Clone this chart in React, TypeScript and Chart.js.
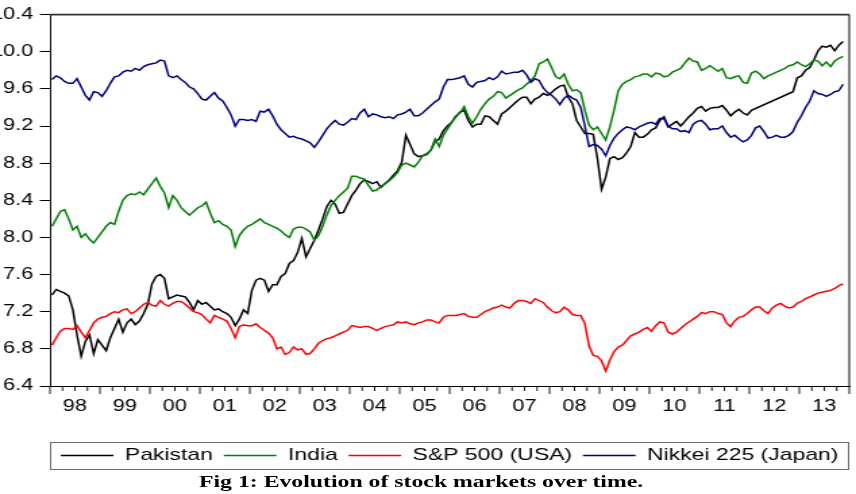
import React, { useEffect, useRef } from 'react';
import { Chart, registerables } from 'chart.js';

Chart.register(...registerables);

// ---- data (monthly, Jan 1998 .. Nov 2013), log index levels ----
const START_YEAR = 1998;
const END_YEAR = 2014;

const seriesNames = ['Pakistan', 'India', 'S&P 500 (USA)', 'Nikkei 225 (Japan)'];
const seriesColors = ['#000000', '#008000', '#ff0000', '#000080'];

const pakistan: (number | null)[] = [
  7.38, 7.44, 7.42, 7.40, 7.37, 7.22, 6.95, 6.72, 6.88, 6.95, 6.75, 6.90,
  6.84, 6.78, 6.92, 7.02, 7.12, 6.98, 7.08, 7.12, 7.06, 7.10, 7.18, 7.28,
  7.50, 7.58, 7.60, 7.56, 7.34, 7.36, 7.38, 7.37, 7.36, 7.30, 7.22, 7.32,
  7.28, 7.30, 7.26, 7.22, 7.23, 7.20, 7.18, 7.14, 7.05, 7.12, 7.22, 7.18,
  7.43, 7.54, 7.56, 7.54, 7.42, 7.49, 7.49, 7.58, 7.61, 7.72, 7.75, 7.84,
  7.99, 7.79, 7.88, 7.97, 8.08, 8.20, 8.33, 8.40, 8.36, 8.26, 8.27, 8.36,
  8.45, 8.51, 8.58, 8.62, 8.60, 8.58, 8.60, 8.54, 8.58, 8.62, 8.67, 8.72,
  8.81, 9.10, 9.00, 8.90, 8.87, 8.88, 8.90, 8.94, 9.03, 9.06, 9.15, 9.20,
  9.24, 9.30, 9.35, 9.37, 9.26, 9.19, 9.22, 9.22, 9.31, 9.30, 9.26, 9.22,
  9.33, 9.36, 9.40, 9.44, 9.48, 9.51, 9.51, 9.44, 9.49, 9.51, 9.55, 9.53,
  9.56, 9.60, 9.63, 9.64, 9.51, 9.44, 9.26, 9.19, 9.12, 9.12, 9.11, 8.85,
  8.52, 8.65, 8.85, 8.87, 8.84, 8.86, 8.91, 8.98, 9.13, 9.08, 9.08, 9.11,
  9.16, 9.18, 9.26, 9.30, 9.19, 9.22, 9.25, 9.20, 9.25, 9.30, 9.34, 9.39,
  9.41, 9.36, 9.39, 9.40, 9.40, 9.42, 9.37, 9.31, 9.35, 9.38, 9.34, 9.32,
  9.37, null, null, null, null, null, null, null, null, null, 9.57, 9.72,
  9.74, 9.80, 9.83, 9.91, 10.01, 10.06, 10.05, 10.07, 10.01, 10.07, 10.11,
];

const india: number[] = [
  8.12, 8.20, 8.28, 8.30, 8.20, 8.08, 8.12, 8.00, 8.04, 7.98, 7.94, 8.00,
  8.06, 8.12, 8.16, 8.14, 8.28, 8.40, 8.45, 8.47, 8.46, 8.49, 8.46, 8.52,
  8.58, 8.64, 8.55, 8.48, 8.32, 8.45, 8.40, 8.32, 8.28, 8.24, 8.28, 8.32,
  8.34, 8.38, 8.26, 8.16, 8.18, 8.14, 8.12, 8.08, 7.90, 8.02, 8.08, 8.12,
  8.14, 8.17, 8.20, 8.16, 8.14, 8.12, 8.10, 8.07, 8.03, 8.00, 8.09, 8.11,
  8.11, 8.09, 8.06, 7.97, 8.02, 8.12, 8.24, 8.34, 8.40, 8.45, 8.49, 8.53,
  8.66, 8.66, 8.64, 8.63, 8.56, 8.50, 8.51, 8.55, 8.58, 8.61, 8.65, 8.70,
  8.78, 8.80, 8.78, 8.76, 8.81, 8.88, 8.89, 8.94, 9.06, 8.98, 9.10, 9.17,
  9.24, 9.31, 9.34, 9.41, 9.30, 9.23, 9.30, 9.38, 9.44, 9.49, 9.52, 9.57,
  9.56, 9.50, 9.53, 9.56, 9.59, 9.61, 9.65, 9.69, 9.74, 9.87, 9.89, 9.92,
  9.83, 9.73, 9.71, 9.76, 9.65, 9.58, 9.59, 9.56, 9.37, 9.21, 9.16, 9.19,
  9.12, 9.05, 9.19, 9.37, 9.58, 9.65, 9.68, 9.70, 9.73, 9.74, 9.76, 9.76,
  9.73, 9.77, 9.76, 9.73, 9.74, 9.78, 9.80, 9.82, 9.88, 9.93, 9.90, 9.89,
  9.80, 9.82, 9.85, 9.82, 9.79, 9.82, 9.72, 9.71, 9.73, 9.74, 9.67, 9.66,
  9.77, 9.79, 9.76, 9.71, 9.74, 9.76, 9.78, 9.80, 9.82, 9.85, 9.86, 9.89,
  9.86, 9.84, 9.87, 9.91, 9.90, 9.85, 9.89, 9.84, 9.90, 9.93, 9.95,
];

const sp500: number[] = [
  6.84, 6.92, 6.99, 7.02, 7.02, 7.01, 7.05, 6.98, 6.92, 7.00, 7.08, 7.12,
  7.14, 7.15, 7.18, 7.20, 7.19, 7.22, 7.23, 7.18, 7.20, 7.24, 7.28, 7.30,
  7.27, 7.26, 7.32, 7.28, 7.26, 7.29, 7.31, 7.31, 7.28, 7.24, 7.20, 7.19,
  7.17, 7.12, 7.08, 7.16, 7.14, 7.12, 7.10, 7.02, 6.92, 7.04, 7.06, 7.05,
  7.05, 7.07, 7.03, 7.00, 6.97, 6.92, 6.80, 6.82, 6.74, 6.76, 6.82, 6.79,
  6.80, 6.74, 6.75, 6.80, 6.86, 6.89, 6.91, 6.92, 6.94, 6.96, 6.98, 7.00,
  7.05, 7.04, 7.03, 7.04, 7.04, 7.02, 7.00, 7.02, 7.04, 7.05, 7.06, 7.09,
  7.08, 7.09, 7.07, 7.06, 7.08, 7.09, 7.11, 7.11, 7.09, 7.08, 7.14, 7.16,
  7.16, 7.16, 7.17, 7.18, 7.15, 7.14, 7.14, 7.17, 7.20, 7.22, 7.24, 7.25,
  7.27, 7.25, 7.24, 7.29, 7.32, 7.32, 7.31, 7.29, 7.34, 7.32, 7.30, 7.25,
  7.21, 7.19, 7.20, 7.25, 7.22, 7.17, 7.16, 7.16, 7.07, 6.83, 6.73, 6.72,
  6.67, 6.56, 6.68, 6.77, 6.82, 6.84, 6.89, 6.94, 6.96, 6.98, 7.01, 7.03,
  6.99, 7.05, 7.09, 7.08, 6.98, 6.96, 6.98, 7.02, 7.06, 7.09, 7.12, 7.15,
  7.19, 7.18, 7.20, 7.20, 7.18, 7.17, 7.08, 7.04, 7.10, 7.14, 7.15, 7.18,
  7.22, 7.25, 7.25, 7.21, 7.18, 7.24, 7.27, 7.29, 7.26, 7.24, 7.25, 7.29,
  7.31, 7.34, 7.36, 7.38, 7.40, 7.41, 7.42, 7.43, 7.45, 7.48, 7.50,
];

const nikkei: number[] = [
  9.70, 9.74, 9.72, 9.68, 9.66, 9.66, 9.71, 9.62, 9.53, 9.48, 9.57, 9.56,
  9.52, 9.58, 9.66, 9.73, 9.74, 9.78, 9.80, 9.79, 9.82, 9.80, 9.84, 9.86,
  9.87, 9.88, 9.91, 9.90, 9.74, 9.72, 9.74, 9.70, 9.67, 9.62, 9.60, 9.55,
  9.49, 9.48, 9.52, 9.56, 9.50, 9.47, 9.40, 9.32, 9.20, 9.27, 9.27, 9.26,
  9.27, 9.25, 9.36, 9.35, 9.38, 9.31, 9.22, 9.16, 9.12, 9.08, 9.09, 9.07,
  9.06, 9.04, 9.02, 8.97, 9.03, 9.10, 9.17, 9.22, 9.26, 9.22, 9.21, 9.24,
  9.28, 9.27, 9.34, 9.38, 9.30, 9.33, 9.32, 9.30, 9.29, 9.30, 9.28, 9.32,
  9.33, 9.35, 9.38, 9.31, 9.31, 9.34, 9.38, 9.42, 9.46, 9.49, 9.62, 9.70,
  9.70, 9.71, 9.72, 9.74, 9.65, 9.62, 9.67, 9.68, 9.69, 9.72, 9.70, 9.73,
  9.79, 9.76, 9.77, 9.78, 9.78, 9.80, 9.75, 9.67, 9.71, 9.69, 9.61, 9.56,
  9.53, 9.49, 9.43, 9.50, 9.53, 9.50, 9.48, 9.40, 9.20, 8.98, 9.00, 8.99,
  8.95, 8.88, 8.99, 9.07, 9.12, 9.16, 9.19, 9.18, 9.16, 9.19, 9.21, 9.23,
  9.24, 9.22, 9.28, 9.28, 9.20, 9.17, 9.17, 9.14, 9.15, 9.13, 9.22, 9.25,
  9.26, 9.22, 9.16, 9.17, 9.17, 9.20, 9.13, 9.08, 9.10, 9.06, 9.03, 9.05,
  9.10, 9.18, 9.20, 9.14, 9.07, 9.08, 9.10, 9.08, 9.08, 9.10, 9.14, 9.24,
  9.31, 9.40, 9.47, 9.58, 9.55, 9.54, 9.52, 9.54, 9.57, 9.58, 9.65,
];

const seriesValues = [pakistan, india, sp500, nikkei];

const yTickValues = [6.4, 6.8, 7.2, 7.6, 8.0, 8.4, 8.8, 9.2, 9.6, 10.0, 10.4];
const yearLabels = ['98', '99', '00', '01', '02', '03', '04', '05', '06', '07', '08', '09', '10', '11', '12', '13'];
const captionText = 'Fig 1: Evolution of stock markets over time.';

// ---- layout ----
const SCREEN_W = 856;
const CW = 634; // canvas width before horizontal stretch
const CH = 476;
const STRETCH = SCREEN_W / CW;
const FONT = '"Liberation Sans", Arial, Helvetica, sans-serif';

const monthX = (i: number) => START_YEAR + (i + 0.5) / 12;

const quarterTicks: number[] = [];
for (let q = START_YEAR * 4; q <= END_YEAR * 4; q++) quarterTicks.push(q / 4);

const framePlugin = {
  id: 'framePlugin',
  afterDraw(chart: any) {
    const { ctx, chartArea, scales } = chart;
    const { left, right, top, bottom } = chartArea;
    ctx.save();
    // top and right frame
    ctx.strokeStyle = '#333333';
    ctx.lineWidth = 1.6;
    ctx.beginPath();
    ctx.moveTo(left, top);
    ctx.lineTo(right, top);
    ctx.stroke();
    ctx.lineWidth = 1.2;
    ctx.beginPath();
    ctx.moveTo(right, top);
    ctx.lineTo(right, bottom);
    ctx.stroke();
    // x tick marks (major at years, minor at quarters)
    const x = scales.x;
    ctx.strokeStyle = '#000000';
    ctx.lineWidth = 0.9;
    ctx.beginPath();
    x.ticks.forEach((t: any) => {
      const px = x.getPixelForValue(t.value);
      const major = Math.abs(t.value - Math.round(t.value)) < 1e-6;
      ctx.moveTo(px, bottom);
      ctx.lineTo(px, bottom + (major ? 8 : 5));
    });
    ctx.stroke();
    // legend frame
    const lg = chart.legend;
    if (lg && lg.legendHitBoxes && lg.legendHitBoxes.length) {
      const hb = lg.legendHitBoxes[0];
      const cy = hb.top + hb.height / 2;
      ctx.strokeStyle = '#6e6e6e';
      ctx.lineWidth = 1;
      ctx.strokeRect(left + 0.5, Math.round(cy - 13.5) + 0.5, right - left - 1, 27);
    }
    ctx.restore();
  },
};

export default function App() {
  const ref = useRef<HTMLCanvasElement | null>(null);

  useEffect(() => {
    if (!ref.current) return;
    const datasets = seriesNames.map((name, s) => ({
      label: name,
      data: seriesValues[s].map((v, i) => ({ x: monthX(i), y: v })),
      borderColor: seriesColors[s],
      backgroundColor: seriesColors[s],
      borderWidth: 1.5,
      pointRadius: 0,
      tension: 0,
      spanGaps: true,
      order: seriesNames.length - s,
    }));

    const chart = new Chart(ref.current, {
      type: 'line',
      data: { datasets },
      options: {
        responsive: false,
        animation: false,
        devicePixelRatio: 1,
        events: [],
        layout: { padding: { top: 14, right: 5, left: 0, bottom: 2 } },
        scales: {
          x: {
            type: 'linear',
            min: START_YEAR,
            max: END_YEAR,
            afterBuildTicks: (s: any) => {
              s.ticks = quarterTicks.map((v) => ({ value: v }));
            },
            afterFit: (s: any) => {
              s.height = 53;
            },
            ticks: {
              autoSkip: false,
              maxRotation: 0,
              minRotation: 0,
              padding: 3,
              color: '#000',
              font: { family: FONT, size: 16 },
              callback: (v: any) => {
                const frac = v - Math.floor(v);
                if (Math.abs(frac - 0.5) < 1e-6) return yearLabels[Math.floor(v) - START_YEAR] ?? '';
                return '';
              },
            },
            grid: {
              display: true,
              drawOnChartArea: false,
              drawTicks: true,
              tickLength: 8,
              tickColor: 'rgba(0,0,0,0)',
            },
            border: { display: true, color: '#000', width: 1 },
          },
          y: {
            type: 'linear',
            min: 6.4,
            max: 10.4,
            afterBuildTicks: (s: any) => {
              s.ticks = yTickValues.map((v) => ({ value: v }));
            },
            afterFit: (s: any) => {
              s.width = 37;
            },
            ticks: {
              padding: 5,
              color: '#000',
              font: { family: FONT, size: 16 },
              callback: (v: any) => Number(v).toFixed(1),
            },
            grid: {
              display: true,
              drawOnChartArea: false,
              drawTicks: true,
              tickLength: 7.4,
              tickColor: '#000',
              tickWidth: 1,
            },
            border: { display: true, color: '#000', width: 1 },
          },
        },
        plugins: {
          legend: {
            display: true,
            position: 'bottom',
            fullSize: false,
            labels: {
              boxWidth: 39,
              boxHeight: 0,
              padding: 8,
              color: '#000',
              font: { family: FONT, size: 17 },
              sort: (a: any, b: any) => a.datasetIndex - b.datasetIndex,
            },
          },
          tooltip: { enabled: false },
          title: { display: false },
        },
      },
      plugins: [framePlugin],
    } as any);

    return () => chart.destroy();
  }, []);

  return (
    <div
      style={{
        position: 'fixed',
        left: 0,
        top: 0,
        width: CW,
        height: 494,
        background: '#ffffff',
        transform: `scaleX(${STRETCH})`,
        transformOrigin: '0 0',
        overflow: 'hidden',
      }}
    >
      <canvas ref={ref} width={CW} height={CH} style={{ display: 'block', width: CW, height: CH }} />
      <div
        style={{
          position: 'absolute',
          left: 147.4,
          top: 471,
          whiteSpace: 'nowrap',
          fontFamily: '"Liberation Serif", "Times New Roman", serif',
          fontWeight: 'bold',
          fontSize: '17.6px',
          lineHeight: '20px',
          color: '#000',
        }}
      >
        {captionText}
      </div>
    </div>
  );
}
